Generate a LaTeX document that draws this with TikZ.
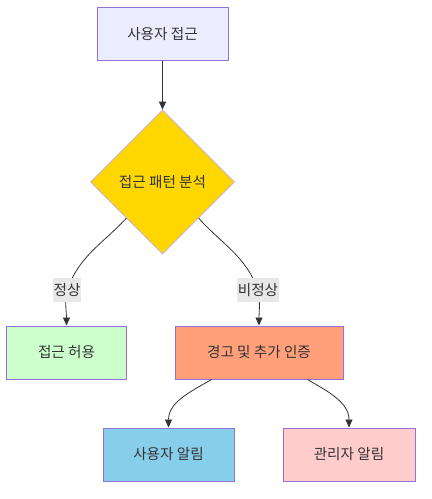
\documentclass[tikz,border=0pt]{standalone}
\usepackage{fontspec}
\setmainfont{Noto Sans CJK KR}
\usepackage{xcolor}
\usepackage{tikz}
\usetikzlibrary{arrows.meta,shapes.geometric}
\definecolor{edgeline}{HTML}{333333}
\definecolor{nodeborder}{HTML}{9370DB}
\definecolor{startfill}{HTML}{ECECFF}
\definecolor{checkfill}{HTML}{FFD700}
\definecolor{okfill}{HTML}{CCFFCC}
\definecolor{warnfill}{HTML}{FFA07A}
\definecolor{userfill}{HTML}{87CEEB}
\definecolor{adminfill}{HTML}{FFCCCC}
\definecolor{labelfill}{HTML}{E8E8E8}

\begin{document}
\begin{tikzpicture}[x=1bp, y=-1bp,
  font=\fontsize{14.6bp}{17bp}\selectfont, text=edgeline,
  box/.style={draw=nodeborder, line width=1bp, minimum height=53bp, inner sep=0pt, align=center},
  startBox/.style={box, fill=startfill},
  okBox/.style={box, fill=okfill},
  warnBox/.style={box, fill=warnfill},
  userBox/.style={box, fill=userfill},
  adminBox/.style={box, fill=adminfill},
  checkShape/.style={diamond, draw=nodeborder!60, line width=0.6bp, fill=checkfill, minimum width=144bp, minimum height=144bp, inner sep=0pt, aspect=1},
  edgeLabel/.style={fill=labelfill, inner xsep=1bp, inner ysep=5bp},
  flow/.style={-{Triangle[length=8bp,width=7bp]}, draw=edgeline, line width=0.8bp}
]
  \useasboundingbox (0,0) rectangle (431,499);

  \node[startBox, minimum width=131bp] (access) at (162.5,34) {사용자 접근};
  \node[checkShape] (check) at (162.5,182) {접근 패턴 분석};
  \node[okBox, minimum width=119bp] (allow) at (66.5,352.5) {접근 허용};
  \node[warnBox, minimum width=168bp] (warn) at (259,352.5) {경고 및 추가 인증};
  \node[userBox, minimum width=131bp] (notifyuser) at (168.5,454.5) {사용자 알림};
  \node[adminBox, minimum width=132bp] (notifyadmin) at (349,454.5) {관리자 알림};

  \coordinate (normalpt) at (67,290);
  \coordinate (abnormalpt) at (258,290);

  \draw[flow] (access) -- (check);
  \draw[flow] (check.south west) to[out=-133,in=70] (normalpt)
    to[out=-100,in=90] (allow.north);
  \draw[flow] (check.south east) to[out=-48,in=110] (abnormalpt)
    to[out=-80,in=90] (warn.north);
  \draw[flow] ([xshift=37bp]warn.south west) to[out=-150,in=90] (notifyuser.north);
  \draw[flow] ([xshift=-36bp]warn.south east) to[out=-30,in=90] (notifyadmin.north);

  \node[edgeLabel] (normal) at (normalpt) {정상};
  \node[edgeLabel] (abnormal) at (abnormalpt) {비정상};
\end{tikzpicture}
\end{document}
